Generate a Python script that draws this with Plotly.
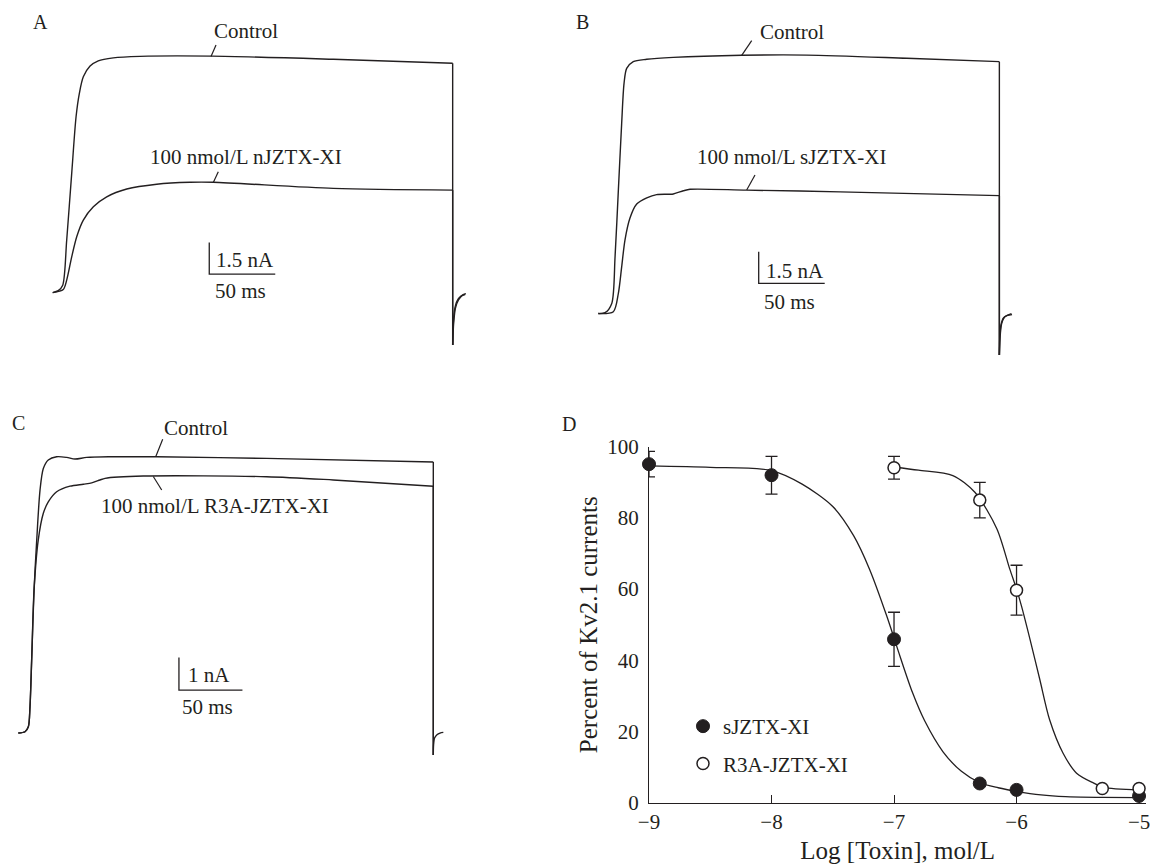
import plotly.graph_objects as go

W, H = 1150, 864
INK = "#231f20"
FONT = "Liberation Serif"

# ---------------- Panel A (ms, nA) ----------------
A_ctrl_t = [0, 4.2, 7.6, 10.6, 14.4, 17.7, 20.2, 23.2, 28.3, 34.5, 45.9, 66.1, 120.5, 212.6, 303.0]
A_ctrl_i = [0, 0.09, 0.35, 2.48, 5.64, 8.32, 9.43, 10.21, 10.72, 10.97, 11.11, 11.18, 11.19, 11.04, 10.85]
A_tox_t = [0, 8.0, 10.6, 14.4, 18.2, 23.2, 30.8, 40.9, 56.1, 78.8, 104.0, 121.7, 212.6, 303.0]
A_tox_i = [0, 0.15, 0.59, 1.69, 2.64, 3.43, 4.06, 4.53, 4.90, 5.13, 5.22, 5.22, 4.93, 4.85]
A_tail1_t = [303.0, 303.4, 304.4, 306.3, 309.3, 312.4]
A_tail1_i = [-2.48, -1.54, -0.83, -0.40, -0.17, -0.09]
A_tail2_t = [303.0, 303.8, 305.1, 307.4, 310.4, 313.0]
A_tail2_i = [-2.48, -1.40, -0.73, -0.35, -0.12, -0.05]

# ---------------- Panel B (ms, nA) ----------------
B_ctrl_t = [0, 5.1, 10.2, 12.7, 15.2, 17.7, 19.5, 21.5, 26.5, 36.7, 56.8, 108.6, 157.9, 233.6, 303.8]
B_ctrl_i = [0, 0.04, 0.48, 2.69, 5.84, 9.00, 10.89, 11.60, 11.92, 12.03, 12.12, 12.22, 12.23, 12.08, 11.92]
B_tox_t = [0, 11.4, 15.2, 17.7, 20.2, 24.0, 29.1, 36.7, 44.2, 56.8, 64.4, 69.5, 112.4, 183.1, 303.8]
B_tox_i = [0, 0.09, 0.96, 2.21, 3.48, 4.52, 5.18, 5.47, 5.63, 5.66, 5.81, 5.88, 5.84, 5.76, 5.58]
B_tail1_t = [303.8, 304.2, 305.0, 306.9, 309.9, 313.4]
B_tail1_i = [-1.96, -1.02, -0.54, -0.21, -0.09, -0.05]
B_tail2_t = [303.8, 304.6, 305.6, 307.6, 310.6, 313.0]
B_tail2_i = [-1.96, -0.90, -0.45, -0.17, -0.06, 0.0]

# ---------------- Panel C (ms, nA) ----------------
C_ctrl_t = [0, 5.3, 7.9, 9.2, 10.6, 12.4, 14.5, 17.1, 19.7, 23.6, 30.2, 38.1, 44.6, 53.9, 72.2, 109.0, 195.6, 326.8]
C_ctrl_i = [0, 0.04, 0.19, 0.80, 2.33, 4.37, 5.90, 7.43, 8.09, 8.35, 8.45, 8.43, 8.38, 8.43, 8.45, 8.45, 8.40, 8.29]
C_tox_t = [0, 5.3, 7.9, 9.2, 10.6, 12.4, 15.7, 19.7, 23.6, 30.2, 40.7, 51.2, 57.8, 64.3, 68.3, 98.4, 195.6, 248.0, 326.8]
C_tox_i = [0, 0.04, 0.19, 0.80, 2.33, 4.37, 5.90, 6.72, 7.07, 7.38, 7.55, 7.61, 7.65, 7.74, 7.79, 7.86, 7.84, 7.74, 7.55]
C_tail_t = [326.8, 327.0, 327.8, 329.7, 332.1, 334.7]
C_tail_i = [-0.67, -0.37, -0.15, -0.05, 0.0, 0.02]

# ---------------- Panel D ----------------
s_x = [-9, -8, -7, -6.3, -6, -5]
s_y = [95.1, 92.0, 45.9, 5.4, 3.6, 1.9]
s_err = [3.6, 5.3, 7.6, 0, 0, 0]
r_x = [-7, -6.3, -6, -5.3, -5]
r_y = [94.1, 85.0, 59.7, 4.0, 4.0]
r_err = [3.2, 5.0, 7.0, 0, 0]
s_fit_x = [-9.0, -8.5, -8.0, -7.75, -7.5, -7.33, -7.2, -7.06, -6.95, -6.85, -6.75, -6.6, -6.45, -6.3, -6.15, -6.0, -5.8, -5.6, -5.3, -5.0]
s_fit_y = [94.6, 94.2, 93.3, 89.5, 83.2, 75.0, 65.6, 52.5, 41.0, 31.0, 23.0, 14.3, 8.8, 5.6, 4.2, 3.2, 2.2, 1.7, 1.5, 1.4]
r_fit_x = [-7.0, -6.8, -6.52, -6.34, -6.16, -6.055, -6.0, -5.96, -5.89, -5.81, -5.73, -5.62, -5.51, -5.37, -5.29, -5.0]
r_fit_y = [94.3, 93.4, 91.9, 87.2, 76.9, 65.6, 60.0, 55.3, 45.9, 34.6, 23.3, 13.9, 8.3, 5.5, 4.3, 3.6]
x_ticks = [-9, -8, -7, -6, -5]
y_ticks = [0, 20, 40, 60, 80, 100]

# scale bars: (t0, i0, ms length, nA height)
SCALE = {"A": (118.6, 0.876, 50, 1.5), "B": (121.5, 1.43, 50, 1.5), "C": (126.5, 1.31, 50, 1.0)}


def px(x):
    return x / W


def py(y):
    return 1 - y / H


fig = go.Figure()
LW = 1.4


def line(xs, ys, ax, shape="spline", width=LW):
    fig.add_trace(go.Scatter(x=xs, y=ys, mode="lines", xaxis=ax[0], yaxis=ax[1],
                             line=dict(color=INK, width=width, shape=shape, smoothing=0.8),
                             showlegend=False, hoverinfo="skip"))


panels = {
    "A": (("x", "y"), A_ctrl_t, A_ctrl_i, A_tox_t, A_tox_i, [(A_tail1_t, A_tail1_i), (A_tail2_t, A_tail2_i)]),
    "B": (("x2", "y2"), B_ctrl_t, B_ctrl_i, B_tox_t, B_tox_i, [(B_tail1_t, B_tail1_i), (B_tail2_t, B_tail2_i)]),
    "C": (("x3", "y3"), C_ctrl_t, C_ctrl_i, C_tox_t, C_tox_i, [(C_tail_t, C_tail_i)]),
}
for key, (ax, ct, ci, tt, ti, tails) in panels.items():
    line(ct, ci, ax)
    line(tt, ti, ax)
    tails0_t, tails0_i = tails[0]
    line([ct[-1], ct[-1]], [ci[-1], tails0_i[0]], ax, shape="linear")
    line([tt[-1], tt[-1]], [ti[-1], tails0_i[0]], ax, shape="linear")
    for tl_t, tl_i in tails:
        line(tl_t, tl_i, ax)
    t0, i0, dt, di = SCALE[key]
    line([t0, t0, t0 + dt], [i0 + di, i0, i0], ax, shape="linear", width=1.3)

# Panel D fits
line(s_fit_x, s_fit_y, ("x4", "y4"), width=1.3)
line(r_fit_x, r_fit_y, ("x4", "y4"), width=1.3)
err_style = dict(type="data", visible=True, color=INK, thickness=1.3, width=6)
fig.add_trace(go.Scatter(x=s_x, y=s_y, mode="markers", xaxis="x4", yaxis="y4", name="sJZTX-XI",
                         legendgroup="s",
                         marker=dict(size=13, color=INK, line=dict(color=INK, width=1)),
                         error_y=dict(array=s_err, **err_style), cliponaxis=False))
fig.add_trace(go.Scatter(x=r_x, y=r_y, mode="markers", xaxis="x4", yaxis="y4", name="R3A-JZTX-XI",
                         legendgroup="r",
                         marker=dict(size=12, color="white", line=dict(color=INK, width=1.5)),
                         error_y=dict(array=r_err, **err_style), cliponaxis=False))

hidden = dict(visible=False, fixedrange=True)
D_XMAX = -4.94
fig.update_layout(
    width=W, height=H, margin=dict(l=0, r=0, t=0, b=0, pad=0, autoexpand=False),
    paper_bgcolor="white", plot_bgcolor="rgba(0,0,0,0)",
    font=dict(family=FONT, size=21, color=INK),
    xaxis=dict(domain=[px(40), px(480)], range=[-9.62, 323.7], anchor="y", **hidden),
    yaxis=dict(domain=[py(360), py(20)], range=[-3.19, 12.90], anchor="x", **hidden),
    xaxis2=dict(domain=[px(580), px(1030)], range=[-13.86, 327.0], anchor="y2", **hidden),
    yaxis2=dict(domain=[py(370), py(20)], range=[-2.67, 13.89], anchor="x2", **hidden),
    xaxis3=dict(domain=[px(10), px(470)], range=[-6.54, 355.7], anchor="y3", **hidden),
    yaxis3=dict(domain=[py(770), py(410)], range=[-1.13, 9.88], anchor="x3", **hidden),
    xaxis4=dict(domain=[px(649), px(1146.4)], range=[-9, D_XMAX], anchor="y4",
                showline=True, linecolor=INK, linewidth=1.3, showgrid=False, zeroline=False,
                ticks="inside", ticklen=8, tickwidth=1.3, tickcolor=INK,
                tickvals=x_ticks, ticklabelstandoff=0, ticklabeloverflow="allow", automargin=False,
                title=dict(text="Log [Toxin], mol/L", standoff=10), fixedrange=True),
    yaxis4=dict(domain=[py(802.7), py(446.7)], range=[0, 100], anchor="x4",
                showline=True, linecolor=INK, linewidth=1.3, showgrid=False, zeroline=False,
                ticks="", tickvals=y_ticks, ticklabelstandoff=5, automargin=False,
                title=dict(text="Percent of Kv2.1 currents", standoff=2), fixedrange=True),
    showlegend=True,
    legend=dict(x=px(683), y=py(706), xanchor="left", yanchor="top", bgcolor="rgba(0,0,0,0)",
                font=dict(size=21), tracegroupgap=7, itemsizing="trace"),
)

# text labels (pixel positions)
labels = [
    ("A", 40, 22, "center", 20), ("B", 582, 22, "center", 20), ("C", 18, 423, "center", 20), ("D", 569, 424, "center", 20),
    ("Control", 246, 31, "center", 21), ("100 nmol/L nJZTX-XI", 246, 157, "center", 21),
    ("1.5 nA", 214, 260, "left", 21), ("50 ms", 240, 291, "center", 21),
    ("Control", 792, 32, "center", 21), ("100 nmol/L sJZTX-XI", 791, 157, "center", 21),
    ("1.5 nA", 764, 271, "left", 21), ("50 ms", 789, 302, "center", 21),
    ("Control", 196, 428, "center", 21), ("100 nmol/L R3A-JZTX-XI", 215, 506, "center", 21),
    ("1 nA", 186, 675, "left", 21), ("50 ms", 207, 707, "center", 21),
]
for txt, x, y, anc, size in labels:
    fig.add_annotation(text=txt, x=px(x), y=py(y), xref="paper", yref="paper",
                       xanchor=anc, yanchor="middle", showarrow=False, font=dict(size=size))

leaders = [
    ((216, 45), (211, 56.5)), ((218.3, 171.7), (213.3, 182.5)),
    ((751.7, 40.7), (741.7, 55.3)), ((755, 175), (746.7, 190)),
    ((162.7, 439.3), (155.7, 456.7)), ((161.7, 490), (153.3, 476.5)),
]
for (x0, y0), (x1, y1) in leaders:
    fig.add_shape(type="line", xref="paper", yref="paper", x0=px(x0), y0=py(y0), x1=px(x1), y1=py(y1),
                  line=dict(color=INK, width=1.2))

fig.write_html("out.html", config={"displayModeBar": False},
               post_script="document.body.style.margin='0px';")
